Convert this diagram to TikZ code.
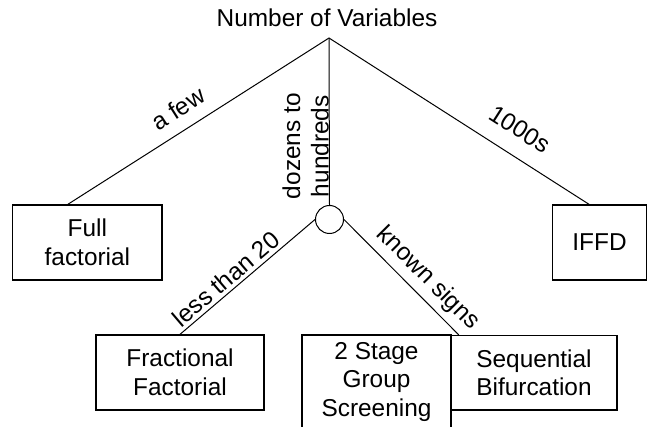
\documentclass[tikz,border=0pt]{standalone}
\usepackage{fontspec}
\setmainfont{Liberation Sans}
\usetikzlibrary{calc}

\begin{document}
\begin{tikzpicture}[x=1pt,y=-1pt,
  every node/.style={font=\fontsize{24.4}{28.5}\selectfont},
  box/.style={draw,line width=1.3pt,align=center,inner sep=0pt},
  link/.style={line width=1pt},
  lbl/.style={sloped,anchor=south}]
\useasboundingbox (0,0) rectangle (651,427);
\clip (0,0) rectangle (651,427);

% root of the tree
\node[anchor=base,inner sep=0pt] (title) at (327,27) {Number of Variables};
\coordinate (apex) at (329,38);

% outcome boxes
\node[box,minimum width=149.3pt,minimum height=75pt] (full) at (87.4,242.5) {Full\\factorial};
\node[box,minimum width=93.5pt,minimum height=75pt] (iffd) at (599.5,242.5) {IFFD};
\node[box,minimum width=168pt,minimum height=75pt] (frac) at (180,372.5) {Fractional\\Factorial};
\node[box,minimum width=149pt,minimum height=94pt] (stage) at (376.5,382) {2 Stage\\Group\\Screening};
\node[box,minimum width=166pt,minimum height=74.5pt] (seq) at (534,372.7) {Sequential\\Bifurcation};

% intermediate branch point
\node[draw,circle,line width=1pt,minimum size=28pt,inner sep=0pt] (hub) at (329.5,219.5) {};

% branches with their conditions
\draw[link] (apex) -- node[lbl,pos=0.534,inner sep=12pt] {a few}
  ($(full.north west)!0.37!(full.north east)$);
\draw[link] (apex) -- node[lbl,pos=0.68,inner sep=17pt] {1000s}
  ($(iffd.north west)!0.39!(iffd.north east)$);
\draw[link] (apex) -- node[rotate=90,anchor=south,inner sep=0pt,align=center,pos=0.648] {dozens to\\hundreds}
  (hub.north);
\draw[link] (hub.west) -- node[lbl,pos=0.6,inner sep=3pt] {less than 20}
  (frac.north);
\draw[link] (hub.east) -- node[lbl,pos=0.62,inner sep=6pt] {known signs}
  ($(seq.north west)!0.05!(seq.north east)$);
\end{tikzpicture}
\end{document}
